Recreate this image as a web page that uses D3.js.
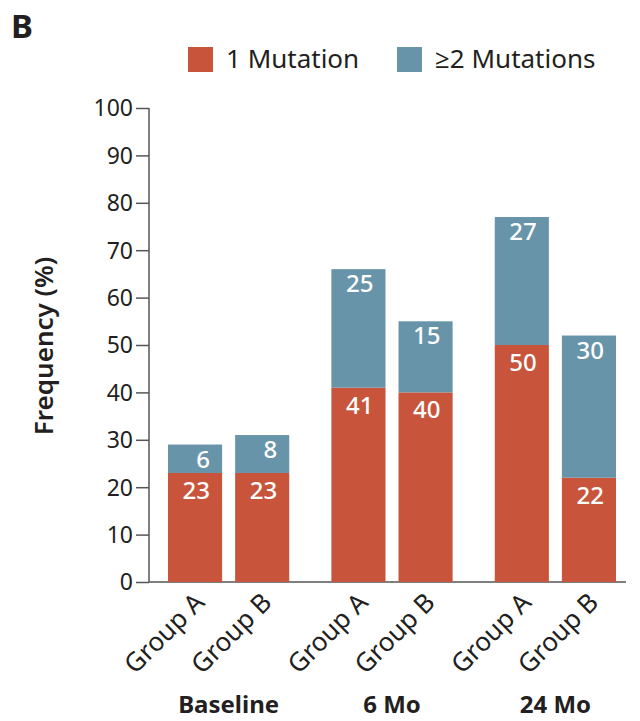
<!DOCTYPE html>
<html>
<head>
<meta charset="utf-8">
<script src="https://cdn.jsdelivr.net/npm/d3@7"></script>
<style>
  html, body { margin: 0; padding: 0; background: #fff; }
  svg { display: block; font-family: "Noto Sans", "Open Sans", sans-serif; }
</style>
</head>
<body>
<svg id="chart" width="640" height="721"></svg>
<script>
// Time points and study arms
const timepoints = ["Baseline", "6 Mo", "24 Mo"];
const arms = ["Group A", "Group B"];
// Frequency (%) of patients with exactly one mutation, per time point [Group A, Group B]
const oneMutation = [[23, 23], [41, 40], [50, 22]];
// Frequency (%) of patients with two or more mutations, per time point [Group A, Group B]
const twoPlusMutations = [[6, 8], [25, 15], [27, 30]];
const yTicks = [0, 10, 20, 30, 40, 50, 60, 70, 80, 90, 100];
const seriesNames = ["1 Mutation", "\u22652 Mutations"];
const seriesColors = ["#c8553b", "#6894aa"];

const svg = d3.select("#chart");
const ink = "#231f20";

const y = d3.scaleLinear().domain([0, 100]).range([582, 108]);
const xGroup = d3.scaleBand().domain(timepoints).range([168, 616])
  .paddingInner(0.258).paddingOuter(0);
const xArm = d3.scaleBand().domain(arms).range([0, xGroup.bandwidth()])
  .paddingInner(0.194).paddingOuter(0);

// Panel letter
svg.append("text").attr("x", 11).attr("y", 38)
  .attr("font-size", 33).attr("font-weight", 700).attr("fill", ink).text("B");

// Legend
const legend = svg.append("g");
const legendX = [188, 397];
seriesNames.forEach((name, i) => {
  legend.append("rect").attr("x", legendX[i]).attr("y", 47)
    .attr("width", 25).attr("height", 25).attr("fill", seriesColors[i]);
  legend.append("text").attr("x", legendX[i] + 38).attr("y", 68)
    .attr("font-size", 26).attr("fill", ink).text(name);
});

// Y axis
const yAxis = d3.axisLeft(y).tickValues(yTicks).tickSize(13).tickPadding(3);
const gy = svg.append("g").attr("transform", "translate(149,0)").call(yAxis);
gy.select(".domain").attr("stroke", "#555").attr("stroke-width", 1.5).attr("d", `M0,${y(100)}V${y(0)}`);
gy.selectAll(".tick line").attr("stroke", "#555").attr("stroke-width", 1.5);
gy.selectAll(".tick text").attr("font-size", 23).attr("fill", ink)
  .attr("font-family", "Noto Sans, sans-serif").attr("dy", "0.34em");

// X baseline
svg.append("line").attr("x1", 149).attr("x2", 626)
  .attr("y1", y(0)).attr("y2", y(0)).attr("stroke", "#555").attr("stroke-width", 1.5);

// Y axis title
svg.append("text").attr("transform", `translate(53,${(y(0) + y(100)) / 2 + 1}) rotate(-90)`)
  .attr("text-anchor", "middle").attr("font-size", 26).attr("font-weight", 600)
  .attr("fill", ink).text("Frequency (%)");

// Stacked bars
const bars = [];
timepoints.forEach((tp, gi) => {
  arms.forEach((arm, ai) => {
    const v1 = oneMutation[gi][ai];
    const v2 = twoPlusMutations[gi][ai];
    const x0 = xGroup(tp) + xArm(arm);
    bars.push({ x: x0, lo: 0, hi: v1, value: v1, color: seriesColors[0], off: 26 });
    bars.push({ x: x0, lo: v1, hi: v1 + v2, value: v2, color: seriesColors[1], off: 23 });
  });
});

svg.append("g").selectAll("rect").data(bars).join("rect")
  .attr("x", d => d.x).attr("width", xArm.bandwidth())
  .attr("y", d => y(d.hi)).attr("height", d => y(d.lo) - y(d.hi))
  .attr("fill", d => d.color);

svg.append("g").selectAll("text").data(bars).join("text")
  .attr("x", d => d.x + xArm.bandwidth() / 2 + 15)
  .attr("y", d => y(d.hi) + d.off)
  .attr("text-anchor", "end").attr("font-size", 24).attr("font-weight", 500)
  .attr("fill", "#fff").text(d => d.value);

// Arm labels, rotated
timepoints.forEach(tp => {
  arms.forEach(arm => {
    const cx = xGroup(tp) + xArm(arm) + xArm.bandwidth() / 2;
    svg.append("text")
      .attr("transform", `translate(${cx + 11},604) rotate(-45)`)
      .attr("text-anchor", "end").attr("font-size", 26).attr("fill", ink)
      .text(arm);
  });
});

// Time point labels
svg.append("g").selectAll("text").data(timepoints).join("text")
  .attr("x", d => xGroup(d) + xGroup.bandwidth() / 2)
  .attr("y", 713).attr("text-anchor", "middle")
  .attr("font-size", 24).attr("font-weight", 700).attr("fill", ink)
  .text(d => d);
</script>
</body>
</html>
